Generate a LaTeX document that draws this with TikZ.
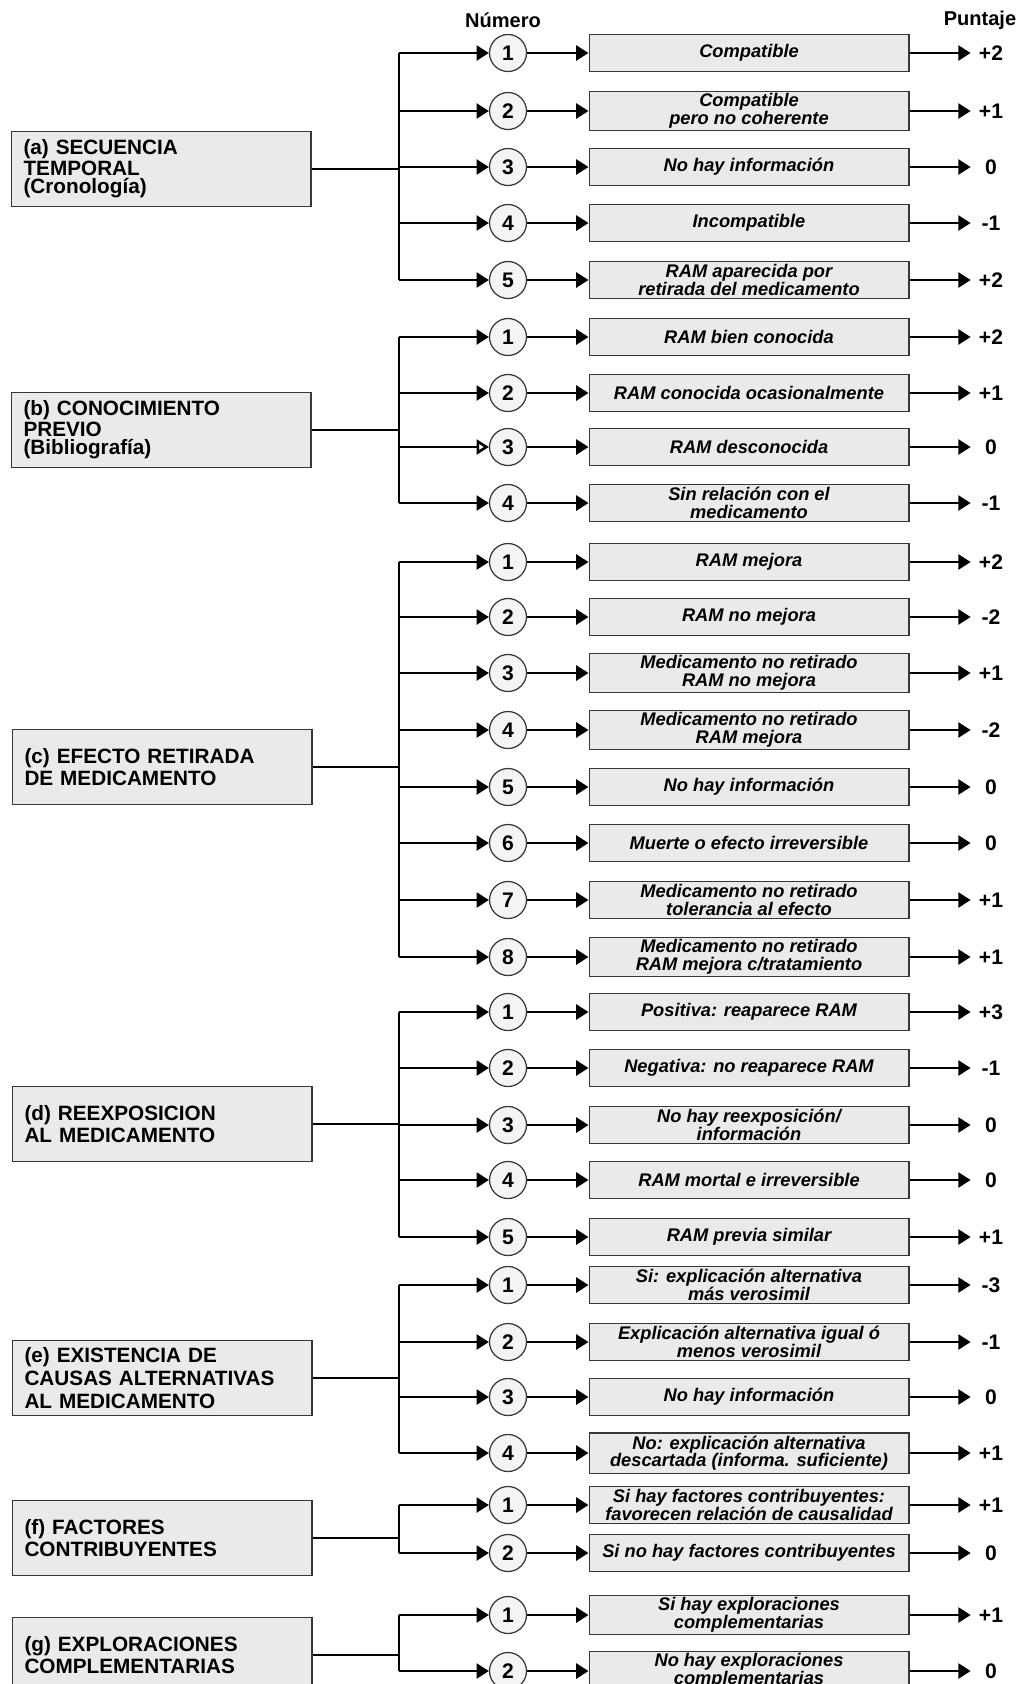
\documentclass[tikz,border=0pt]{standalone}
\usepackage{fontspec}
\setmainfont{Liberation Sans}
\usetikzlibrary{arrows.meta, positioning}
\definecolor{CajaGris}{RGB}{234,234,234}
\definecolor{BordeGris}{RGB}{55,55,55}

\begin{document}
\begin{tikzpicture}[x=0.02cm, y=-0.02cm,
	grupo/.style={rectangle, draw=BordeGris, line width=0.6pt, fill=CajaGris, align=left,
		text width=5.5cm, inner xsep=0.25cm, minimum height=1.5cm,
		font=\fontsize{11.8}{13}\selectfont\bfseries},
	compacto/.style={font=\fontsize{11.8}{10.4}\selectfont\bfseries},
	opcion/.style={rectangle, draw=BordeGris, line width=0.6pt, fill=CajaGris, align=center,
		minimum width=6.4cm, minimum height=0.74cm, inner ysep=1.5pt,
		font=\fontsize{10.4}{10}\selectfont\bfseries\itshape},
	numero/.style={circle, draw=BordeGris, line width=0.7pt, fill=CajaGris!50,
		minimum size=0.74cm, inner sep=0pt, font=\fontsize{12}{12}\selectfont\bfseries},
	puntos/.style={minimum width=0.8cm, inner sep=0pt, font=\fontsize{12}{12}\selectfont\bfseries},
	titulo/.style={font=\fontsize{11.4}{12}\selectfont\bfseries},
	rama/.style={line width=1.5pt},
	fl/.style={-{Triangle[length=7pt, width=8.5pt]}, line width=1.5pt},
	flabierta/.style={-{Triangle[open, length=7pt, width=8.5pt]}, line width=1.5pt}]

	\useasboundingbox (0,0) rectangle (1017,1684);
	\fill[white] (0,0) rectangle (1017,1684);

	\node[titulo] (tnum) at (503,20) {Número};
	\node[titulo] (tpun) at (980,20) {Puntaje};

	% (a) secuencia temporal
	\node[grupo, compacto] (ga) at (161,169) {(a) SECUENCIA\\TEMPORAL\\(Cronología)};
	\coordinate (ba) at (399,169);
	\foreach \i/\y/\t/\p in {1/53/{Compatible}/+2, 2/111/{Compatible\\pero no coherente}/+1,
		3/167/{No hay información}/0, 4/223/{Incompatible}/-1,
		5/280/{RAM aparecida por\\retirada del medicamento}/+2} {
		\node[numero] (na\i) at (508,\y) {\i};
		\node[opcion] (ra\i) at (749,\y) {\t};
		\node[puntos] (pa\i) at (991,\y) {\p};
		\draw[fl] (ba |- na\i) -- (na\i);
		\draw[fl] (na\i) -- (ra\i);
		\draw[fl] (ra\i) -- (pa\i);
	}
	\draw[rama] (ga) -- (ba);
	\draw[rama] (ba |- na1) -- (ba |- na5);

	% (b) conocimiento previo
	\node[grupo, compacto] (gb) at (161,430) {(b) CONOCIMIENTO\\PREVIO\\(Bibliografía)};
	\coordinate (bb) at (399,430);
	\foreach \i/\y/\t/\p in {1/337/{RAM bien conocida}/+2, 2/393/{RAM conocida ocasionalmente}/+1,
		3/447/{RAM desconocida}/0, 4/503/{Sin relación con el\\medicamento}/-1} {
		\node[numero] (nb\i) at (508,\y) {\i};
		\node[opcion] (rb\i) at (749,\y) {\t};
		\node[puntos] (pb\i) at (991,\y) {\p};
		\ifnum\i=3 \draw[flabierta] (bb |- nb\i) -- (nb\i);
		\else \draw[fl] (bb |- nb\i) -- (nb\i); \fi
		\draw[fl] (nb\i) -- (rb\i);
		\draw[fl] (rb\i) -- (pb\i);
	}
	\draw[rama] (gb) -- (bb);
	\draw[rama] (bb |- nb1) -- (bb |- nb4);

	% (c) efecto retirada
	\node[grupo] (gc) at (162,767) {(c) EFECTO RETIRADA\\DE MEDICAMENTO};
	\coordinate (bc) at (399,767);
	\foreach \i/\y/\t/\p in {1/562/{RAM mejora}/+2, 2/617/{RAM no mejora}/-2,
		3/673/{Medicamento no retirado\\RAM no mejora}/+1,
		4/730/{Medicamento no retirado\\RAM mejora}/-2,
		5/787/{No hay información}/0, 6/843/{Muerte o efecto irreversible}/0,
		7/900/{Medicamento no retirado\\tolerancia al efecto}/+1,
		8/957/{Medicamento no retirado\\RAM mejora c/tratamiento}/+1} {
		\node[numero] (nc\i) at (508,\y) {\i};
		\node[opcion] (rc\i) at (749,\y) {\t};
		\node[puntos] (pc\i) at (991,\y) {\p};
		\draw[fl] (bc |- nc\i) -- (nc\i);
		\draw[fl] (nc\i) -- (rc\i);
		\draw[fl] (rc\i) -- (pc\i);
	}
	\draw[rama] (gc) -- (bc);
	\draw[rama] (bc |- nc1) -- (bc |- nc8);

	% (d) reexposicion
	\node[grupo] (gd) at (162,1124) {(d) REEXPOSICION\\AL MEDICAMENTO};
	\coordinate (bd) at (399,1124);
	\foreach \i/\y/\t/\p in {1/1012/{Positiva: reaparece RAM}/+3,
		2/1068/{Negativa: no reaparece RAM}/-1,
		3/1125/{No hay reexposición/\\información}/0,
		4/1180/{RAM mortal e irreversible}/0, 5/1237/{RAM previa similar}/+1} {
		\node[numero] (nd\i) at (508,\y) {\i};
		\node[opcion] (rd\i) at (749,\y) {\t};
		\node[puntos] (pd\i) at (991,\y) {\p};
		\draw[fl] (bd |- nd\i) -- (nd\i);
		\draw[fl] (nd\i) -- (rd\i);
		\draw[fl] (rd\i) -- (pd\i);
	}
	\draw[rama] (gd) -- (bd);
	\draw[rama] (bd |- nd1) -- (bd |- nd5);

	% (e) causas alternativas
	\node[grupo] (ge) at (162,1378) {(e) EXISTENCIA DE\\CAUSAS ALTERNATIVAS\\AL MEDICAMENTO};
	\coordinate (be) at (399,1378);
	\foreach \i/\y/\t/\p in {1/1285/{Si: explicación alternativa\\más verosimil}/-3,
		2/1342/{Explicación alternativa igual ó\\menos verosimil}/-1,
		3/1397/{No hay información}/0,
		4/1453/{No: explicación alternativa\\descartada (informa. suficiente)}/+1} {
		\node[numero] (ne\i) at (508,\y) {\i};
		\node[opcion] (re\i) at (749,\y) {\t};
		\node[puntos] (pe\i) at (991,\y) {\p};
		\draw[fl] (be |- ne\i) -- (ne\i);
		\draw[fl] (ne\i) -- (re\i);
		\draw[fl] (re\i) -- (pe\i);
	}
	\draw[rama] (ge) -- (be);
	\draw[rama] (be |- ne1) -- (be |- ne4);

	% (f) factores contribuyentes
	\node[grupo] (gf) at (162,1538) {(f) FACTORES\\CONTRIBUYENTES};
	\coordinate (bf) at (399,1538);
	\foreach \i/\y/\t/\p in {1/1505/{Si hay factores contribuyentes:\\favorecen relación de causalidad}/+1,
		2/1553/{Si no hay factores contribuyentes}/0} {
		\node[numero] (nf\i) at (508,\y) {\i};
		\node[opcion] (rf\i) at (749,\y) {\t};
		\node[puntos] (pf\i) at (991,\y) {\p};
		\draw[fl] (bf |- nf\i) -- (nf\i);
		\draw[fl] (nf\i) -- (rf\i);
		\draw[fl] (rf\i) -- (pf\i);
	}
	\draw[rama] (gf) -- (bf);
	\draw[rama] (bf |- nf1) -- (bf |- nf2);

	% (g) exploraciones complementarias
	\node[grupo] (gg) at (162,1655) {(g) EXPLORACIONES\\COMPLEMENTARIAS};
	\coordinate (bg) at (399,1655);
	\foreach \i/\y/\t/\p in {1/1615/{Si hay exploraciones\\complementarias}/+1,
		2/1671/{No hay exploraciones\\complementarias}/0} {
		\node[numero] (ng\i) at (508,\y) {\i};
		\node[opcion] (rg\i) at (749,\y) {\t};
		\node[puntos] (pg\i) at (991,\y) {\p};
		\draw[fl] (bg |- ng\i) -- (ng\i);
		\draw[fl] (ng\i) -- (rg\i);
		\draw[fl] (rg\i) -- (pg\i);
	}
	\draw[rama] (gg) -- (bg);
	\draw[rama] (bg |- ng1) -- (bg |- ng2);
\end{tikzpicture}
\end{document}
